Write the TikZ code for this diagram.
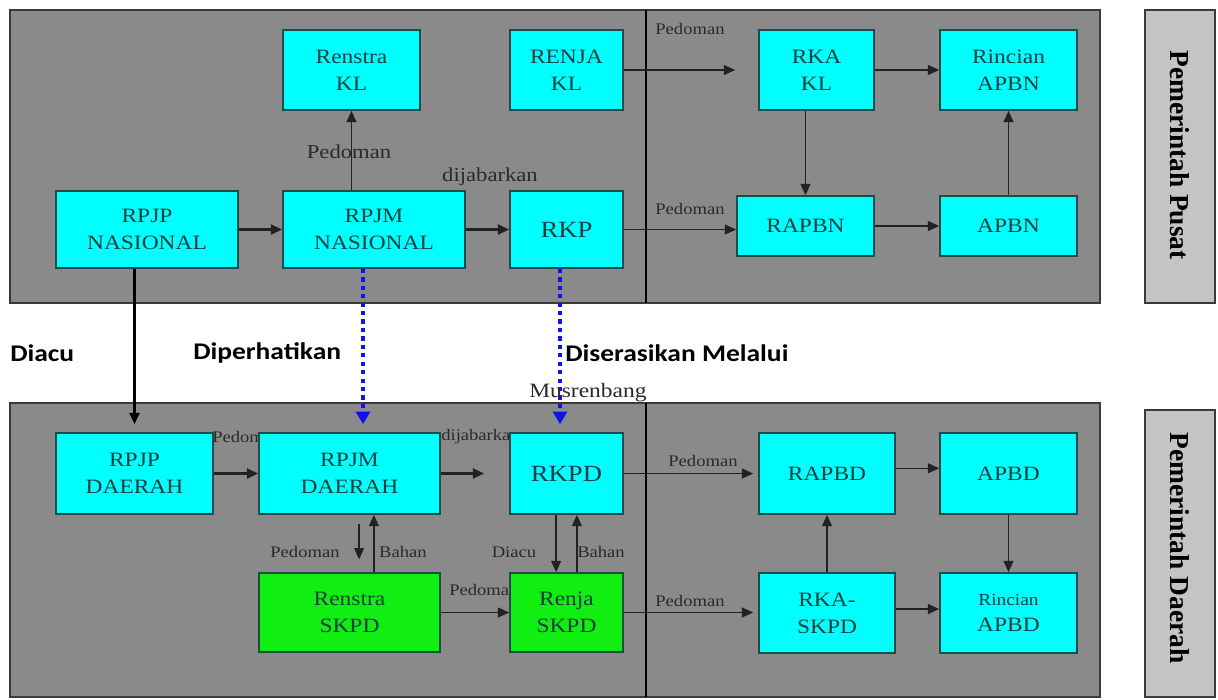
\documentclass[tikz,border=0pt]{standalone}
\usepackage{fontspec}
\setmainfont{Liberation Serif}[FakeStretch=1.15]
\newfontfamily\lblfont{Carlito}[FakeStretch=1.15]
\newfontfamily\sidefont{Liberation Serif}
\usetikzlibrary{arrows.meta}
\definecolor{panelgray}{HTML}{8A8A8A}
\definecolor{panelline}{HTML}{3A3A3A}
\definecolor{sidegray}{HTML}{C4C4C4}
\definecolor{cyanbox}{HTML}{00FFFF}
\definecolor{greenbox}{HTML}{11EE11}
\definecolor{boxline}{HTML}{1E4A4A}
\definecolor{boxtext}{HTML}{0E3E3E}
\definecolor{lbltext}{HTML}{2A2A2A}
\definecolor{arrgray}{HTML}{222222}
\definecolor{dotblue}{HTML}{1010F0}
\begin{document}
\begin{tikzpicture}[x=0.025cm,y=-0.025cm,
 wh/.style 2 args={minimum width={#1*0.025cm}, minimum height={#2*0.025cm}},
 cbox/.style={draw=boxline, line width=1.2pt, fill=cyanbox, text=boxtext, align=center, inner sep=0pt, font=\fontsize{14.5}{19}\selectfont},
 gbox/.style={cbox, fill=greenbox},
 panel/.style={draw=panelline, line width=1.2pt, fill=panelgray},
 sidebox/.style={draw=panelline, line width=1.2pt, fill=sidegray},
 lbl/.style={text=lbltext, inner sep=0pt, font=\fontsize{11.5}{13}\selectfont},
 biglbl/.style={text=lbltext, inner sep=0pt, font=\fontsize{14}{16}\selectfont},
 head/.style={text=black, inner sep=0pt, font=\lblfont\bfseries\fontsize{17}{19}\selectfont},
 sidetxt/.style={text=black, inner sep=0pt, rotate=-90, font=\sidefont\bfseries\fontsize{19.5}{21}\selectfont},
 arr/.style={line width=1pt, draw=arrgray, -{Triangle[length=8pt,width=7pt]}},
 tarr/.style={line width=1.8pt, draw=arrgray, -{Triangle[length=8pt,width=7pt]}},
 darr/.style={line width=3pt, draw=dotblue, dash pattern=on 3pt off 3pt, -{Triangle[length=9pt,width=10pt,fill=dotblue]}}
]
\useasboundingbox (0,0) rectangle (1218,699);
\fill[white] (0,0) rectangle (1218,699);

% panels
\draw[panel] (10,10) rectangle (1100,303);
\draw[panel] (10,403) rectangle (1100,697);
\coordinate (dvt1) at (646,10);
\coordinate (dvt2) at (646,303);
\coordinate (dvb1) at (646,403);
\coordinate (dvb2) at (646,697);
\draw[line width=1.3pt, black] (dvt1) -- (dvt2);
\draw[line width=1.3pt, black] (dvb1) -- (dvb2);

% side boxes
\draw[sidebox] (1145,10) rectangle (1215,303);
\draw[sidebox] (1145,410) rectangle (1215,697);
\node[sidetxt] (spusat) at (1180,155) {Pemerintah Pusat};
\node[sidetxt] (sdaerah) at (1180,548) {Pemerintah Daerah};

% labels partly hidden behind boxes
\node[lbl, anchor=west] (lpd1) at (212,437) {Pedoman};
\node[lbl, anchor=west] (ldj2) at (441,437) {dijabarkan};
\node[lbl, anchor=west] (lpd5) at (449,590) {Pedoman};

% top boxes
\node[cbox, wh={137}{80}] (renstrakl) at (351.5,70) {Renstra\\KL};
\node[cbox, wh={113}{80}] (renjakl) at (566.5,70) {RENJA\\KL};
\node[cbox, wh={182}{77}] (rpjpn) at (147,229.5) {RPJP\\NASIONAL};
\node[cbox, wh={182}{77}] (rpjmn) at (374,229.5) {RPJM\\NASIONAL};
\node[cbox, wh={113}{77}, font=\fontsize{16.5}{19}\selectfont] (rkp) at (566.5,229.5) {RKP};
\node[cbox, wh={115}{80}] (rkakl) at (816.5,70) {RKA\\KL};
\node[cbox, wh={137}{80}] (rincapbn) at (1008.5,70) {Rincian\\APBN};
\node[cbox, wh={137}{60}] (rapbn) at (805.5,226) {RAPBN};
\node[cbox, wh={137}{60}] (apbn) at (1008.5,226) {APBN};

% bottom boxes
\node[cbox, wh={157}{81}] (rpjpd) at (134.5,473.5) {RPJP\\DAERAH};
\node[cbox, wh={181}{81}] (rpjmd) at (349.5,473.5) {RPJM\\DAERAH};
\node[cbox, wh={113}{81}, font=\fontsize{16.5}{19}\selectfont] (rkpd) at (566.5,473.5) {RKPD};
\node[gbox, wh={181}{79}] (renstraskpd) at (349.5,612.5) {Renstra\\SKPD};
\node[gbox, wh={113}{79}] (renjaskpd) at (566.5,612.5) {Renja\\SKPD};
\node[cbox, wh={136}{81}] (rapbd) at (827,473.5) {RAPBD};
\node[cbox, wh={137}{81}] (apbd) at (1008.5,473.5) {APBD};
\node[cbox, wh={136}{80}] (rkaskpd) at (827,613) {RKA-\\SKPD};
\node[cbox, wh={137}{80}] (rincapbd) at (1008.5,613) {{\fontsize{12}{19}\selectfont Rincian}\\APBD};

% top arrows
\draw[arr] (renstrakl.south |- rpjmn.north) -- (renstrakl.south);
\draw[tarr] (rpjpn.east) -- (rpjmn.west);
\draw[tarr] (rpjmn.east) -- (rkp.west);
\draw[arr, shorten >=0.575cm] (renjakl.east) -- (renjakl.east -| rkakl.west);
\draw[arr] (rkp.east) -- (rkp.east -| rapbn.west);
\draw[arr] (rkakl.east) -- (rincapbn.west);
\draw[arr] (rapbn.east) -- (apbn.west);
\draw[arr] (rapbn.north |- rkakl.south) -- (rapbn.north);
\draw[arr] (apbn.north) -- (rincapbn.south);

% cross-panel arrows
\coordinate (bx1) at (363,0);
\coordinate (bx2) at (560,0);
\draw[tarr, black, shorten >=0.2cm] (rpjpd.north |- rpjpn.south) -- (rpjpd.north);
\draw[darr, shorten >=0.2cm] (rpjmn.south -| bx1) -- (rpjmd.north -| bx1);
\draw[darr, shorten >=0.2cm] (rkp.south -| bx2) -- (rkpd.north -| bx2);

% bottom arrows
\draw[tarr] (rpjpd.east) -- (rpjmd.west);
\draw[tarr, shorten >=0.625cm] (rpjmd.east) -- (rkpd.west);
\draw[arr, shorten <=0.22cm, shorten >=0.32cm] ([xshift=0.24cm]rpjmd.south) -- ([xshift=0.24cm]renstraskpd.north);
\draw[arr] ([xshift=0.61cm]renstraskpd.north) -- ([xshift=0.61cm]rpjmd.south);
\draw[arr] ([xshift=-0.26cm]rkpd.south) -- ([xshift=-0.26cm]renjaskpd.north);
\draw[arr] ([xshift=0.26cm]renjaskpd.north) -- ([xshift=0.26cm]rkpd.south);
\draw[arr] (renstraskpd.east) -- (renjaskpd.west);
\draw[tarr, line width=1.4pt, shorten >=0.125cm] (rkpd.east) -- (rkpd.east -| rapbd.west);
\draw[arr, line width=1.3pt, shorten >=0.125cm] (renjaskpd.east) -- (renjaskpd.east -| rkaskpd.west);
\draw[arr] (rkaskpd.north) -- (rapbd.south);
\draw[arr] ([yshift=0.13cm]rapbd.east) -- ([yshift=0.13cm]apbd.west);
\draw[arr] (apbd.south) -- (rincapbd.north);
\draw[tarr, line width=1.4pt] ([yshift=0.1cm]rkaskpd.east) -- ([yshift=0.1cm]rincapbd.west);

% labels
\node[biglbl] (lpd0) at (349,152) {Pedoman};
\node[biglbl] (ldj1) at (490,177) {dijabarkan};
\node[lbl] (lpdt1) at (690,29) {Pedoman};
\node[lbl] (lpdt2) at (690,209) {Pedoman};
\node[head, anchor=west] (hdiacu) at (10,353) {Diacu};
\node[head, anchor=west] (hdiper) at (193,353) {Diperhatikan};
\node[head, anchor=west] (hdiser) at (565,353) {Diserasikan Melalui};
\node[biglbl, anchor=west, font=\fontsize{14.5}{16}\selectfont] (lmus) at (529,393) {Musrenbang};
\node[lbl] (lpd2) at (305,552) {Pedoman};
\node[lbl] (lbh1) at (403,552) {Bahan};
\node[lbl] (ldc1) at (514,552) {Diacu};
\node[lbl] (lbh2) at (601,552) {Bahan};
\node[lbl] (lpd3) at (703,461) {Pedoman};
\node[lbl] (lpd4) at (690,601) {Pedoman};
\end{tikzpicture}
\end{document}
